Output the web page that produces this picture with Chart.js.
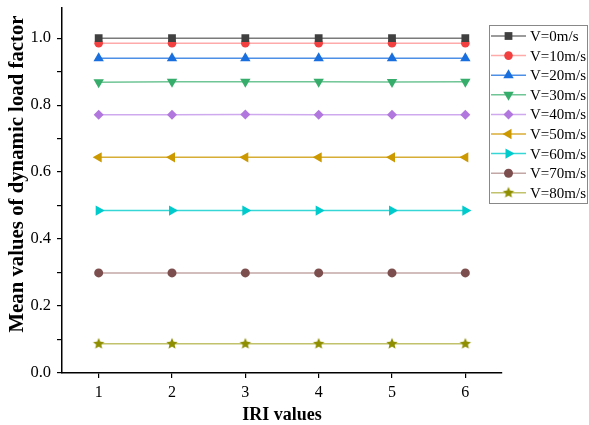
<!DOCTYPE html>
<html>
<head>
<meta charset="utf-8">
<script src="https://cdn.jsdelivr.net/npm/chart.js@4.4.6/dist/chart.umd.min.js"></script>
<style>
  html, body { margin: 0; padding: 0; background: #fff; }
  #wrap { position: relative; width: 589px; height: 425px; }
</style>
</head>
<body>
<div id="wrap"><canvas id="c"></canvas></div>
<script>
// Datos
const IRI = [1, 2, 3, 4, 5, 6];
const ETIQUETAS = ['V=0m/s', 'V=10m/s', 'V=20m/s', 'V=30m/s', 'V=40m/s', 'V=50m/s', 'V=60m/s', 'V=70m/s', 'V=80m/s'];
const V0  = [1.000, 1.000, 1.000, 1.000, 1.000, 1.000];
const V10 = [0.985, 0.985, 0.985, 0.985, 0.985, 0.985];
const V20 = [0.940, 0.940, 0.940, 0.940, 0.940, 0.940];
const V30 = [0.868, 0.870, 0.870, 0.870, 0.869, 0.870];
const V40 = [0.771, 0.771, 0.772, 0.771, 0.771, 0.771];
const V50 = [0.644, 0.644, 0.644, 0.644, 0.644, 0.644];
const V60 = [0.485, 0.485, 0.485, 0.485, 0.485, 0.485];
const V70 = [0.299, 0.299, 0.299, 0.299, 0.299, 0.299];
const V80 = [0.087, 0.087, 0.087, 0.087, 0.087, 0.087];
const SERIES = [V0, V10, V20, V30, V40, V50, V60, V70, V80];
const Y_TICKS = [0, 0.1, 0.2, 0.3, 0.4, 0.5, 0.6, 0.7, 0.8, 0.9, 1.0];

const FUENTE = '"Liberation Serif", "Times New Roman", serif';

// Estrella rellena (la de Chart.js es solo trazo)
const estrella = (color, r) => {
  const c = document.createElement('canvas');
  c.width = c.height = 2 * r + 2;
  const g = c.getContext('2d');
  g.beginPath();
  for (let i = 0; i < 10; i++) {
    const a = -Math.PI / 2 + i * Math.PI / 5;
    const rr = i % 2 ? r * 0.45 : r;
    g.lineTo(r + 1 + rr * Math.cos(a), r + 1 + rr * Math.sin(a));
  }
  g.closePath();
  g.fillStyle = color;
  g.fill();
  return c;
};

const estilos = [
  { marca: '#404040', linea: '#7a7a7a', forma: 'rect', radio: 5.5, rot: 0 },
  { marca: '#f24040', linea: '#ffaaaa', forma: 'circle', radio: 4.3, rot: 0 },
  { marca: '#1a6fdf', linea: '#4d8fe6', forma: 'triangle', radio: 6, rot: 0 },
  { marca: '#37ad6b', linea: '#70c596', forma: 'triangle', radio: 6, rot: 180 },
  { marca: '#b177de', linea: '#cfa9ee', forma: 'rectRot', radio: 5, rot: 0 },
  { marca: '#cc9900', linea: '#d8ad36', forma: 'triangle', radio: 6, rot: -90 },
  { marca: '#00cbcc', linea: '#36d6d6', forma: 'triangle', radio: 6, rot: 90 },
  { marca: '#7d4e4e', linea: '#c3a6a6', forma: 'circle', radio: 4.5, rot: 0 },
  { marca: '#8e8e00', linea: '#c2c26c', forma: estrella('#8e8e00', 6), radio: 6, rot: 0 },
];

const datasets = SERIES.map((serie, i) => {
  const e = estilos[i];
  return {
    label: ETIQUETAS[i],
    data: serie.map((v, k) => ({ x: IRI[k], y: v })),
    borderColor: e.linea,
    borderWidth: 1.5,
    pointStyle: e.forma,
    pointRadius: e.radio,
    pointRotation: e.rot,
    pointBackgroundColor: e.marca,
    pointBorderColor: e.marca,
    pointBorderWidth: 0,
    fill: false,
    tension: 0,
  };
});

// Leyenda dentro del área, con línea + marca como en Origin; títulos de ejes
const leyenda = {
  id: 'leyenda',
  afterDraw(chart) {
    const { ctx, chartArea } = chart;
    const x0 = 489, y0 = 25, w = 99, h = 179;
    ctx.save();
    ctx.fillStyle = '#fff';
    ctx.fillRect(x0, y0, w, h);
    ctx.strokeStyle = '#888';
    ctx.lineWidth = 1;
    ctx.strokeRect(x0 + 0.5, y0 + 0.5, w - 1, h - 1);
    chart.data.datasets.forEach((ds, i) => {
      const y = 36 + i * 19.6;
      ctx.strokeStyle = ds.borderColor;
      ctx.lineWidth = 1.5;
      ctx.beginPath();
      ctx.moveTo(491, y);
      ctx.lineTo(526, y);
      ctx.stroke();
      ctx.fillStyle = ds.pointBackgroundColor;
      ctx.strokeStyle = ds.pointBorderColor;
      Chart.helpers.drawPoint(ctx, {
        pointStyle: ds.pointStyle, radius: ds.pointRadius,
        rotation: ds.pointRotation, borderWidth: 0,
      }, 508.5, y);
      ctx.fillStyle = '#000';
      ctx.font = `15px ${FUENTE}`;
      ctx.textAlign = 'left';
      ctx.textBaseline = 'middle';
      ctx.fillText(ds.label, 530, y + 1);
    });
    ctx.fillStyle = '#000';
    ctx.textAlign = 'center';
    ctx.textBaseline = 'alphabetic';
    // título del eje X
    ctx.font = `bold 18px ${FUENTE}`;
    ctx.fillText('IRI values', (chartArea.left + chartArea.right) / 2, 420);
    // título del eje Y
    ctx.translate(23, 174);
    ctx.rotate(-Math.PI / 2);
    ctx.font = `bold 20.8px ${FUENTE}`;
    ctx.fillText('Mean values of dynamic load factor', 0, 0);
    ctx.restore();
  },
};

new Chart(document.getElementById('c'), {
  type: 'line',
  data: { datasets },
  options: {
    responsive: true,
    maintainAspectRatio: false,
    animation: false,
    layout: { padding: { top: 8, right: 87, left: 0, bottom: 0 } },
    plugins: { legend: { display: false }, tooltip: { enabled: false } },
    scales: {
      x: {
        type: 'linear', min: 0.5, max: 6.5,
        afterBuildTicks: (s) => { s.ticks = IRI.map((v) => ({ value: v })); },
        afterFit: (s) => { s.height = 52; s.paddingLeft = 0; s.paddingRight = 0; },
        ticks: { color: '#000', font: { family: FUENTE, size: 16 }, padding: 5 },
        grid: { drawOnChartArea: false, drawTicks: true, tickLength: 5, color: '#000', lineWidth: 1.2 },
        border: { color: '#000', width: 1.5 },
      },
      y: {
        min: 0, max: 1.09,
        afterBuildTicks: (s) => { s.ticks = Y_TICKS.map((v) => ({ value: v })); },
        afterFit: (s) => { s.width = 62; s.paddingTop = 0; s.paddingBottom = 0; },
        ticks: {
          color: '#000', font: { family: FUENTE, size: 16.5 }, padding: 6,
          callback: (v, i) => (i % 2 === 0 ? v.toFixed(1) : ''),
        },
        grid: { drawOnChartArea: false, drawTicks: true, tickLength: 5, color: '#000', lineWidth: 1.2 },
        border: { color: '#000', width: 1.5 },
      },
    },
  },
  plugins: [leyenda],
});
</script>
</body>
</html>
